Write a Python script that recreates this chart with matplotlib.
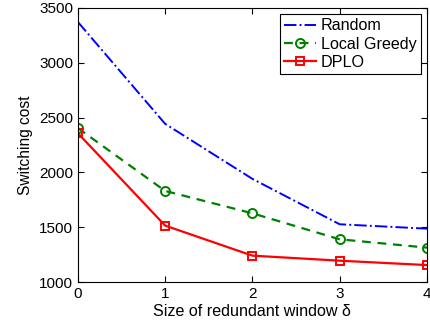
import matplotlib
matplotlib.use("Agg")
import matplotlib.pyplot as plt

windows = [0, 1, 2, 3, 4]
random_cost = [3372, 2443, 1941, 1527, 1487]
greedy_cost = [2404, 1831, 1627, 1390, 1314]
dplo_cost = [2358, 1515, 1241, 1195, 1155]

plt.rcParams["font.family"] = ["Liberation Sans", "DejaVu Sans"]

fig = plt.figure(figsize=(4.3, 3.28), dpi=100)
ax = fig.add_axes([0.181, 0.140, 0.812, 0.836])

ax.plot(windows, random_cost, "-.", color="#0000ff", lw=1.4, label="Random")
ax.plot(windows, greedy_cost, color="#008000", lw=1.6, ls=(0, (4, 3)), marker="o",
        mfc="none", ms=6.5, mew=1.4, label="Local Greedy")
ax.plot(windows, dplo_cost, "-", color="#ff0000", lw=1.6, marker="s",
        mfc="none", ms=6, mew=1.4, label="DPLO")

ax.set_xlim(0, 4)
ax.set_ylim(1000, 3500)
ax.set_xticks(windows)
ax.set_yticks(range(1000, 3501, 500))
ax.tick_params(direction="in", labelsize=11, length=4, top=True, right=True)
for s in ax.spines.values():
    s.set_linewidth(0.8)

ax.set_xlabel("Size of redundant window δ", fontsize=11.6, labelpad=2)
ax.set_ylabel("Switching cost", fontsize=11.2, labelpad=4)

leg = ax.legend(loc="upper right", fontsize=11.6, fancybox=False, framealpha=1,
                edgecolor="black", handlelength=2.0, handletextpad=0.3,
                borderpad=0.25, labelspacing=0.2, borderaxespad=0.4)
leg.get_frame().set_linewidth(0.8)

fig.savefig("out.png", dpi=100, facecolor="white")
